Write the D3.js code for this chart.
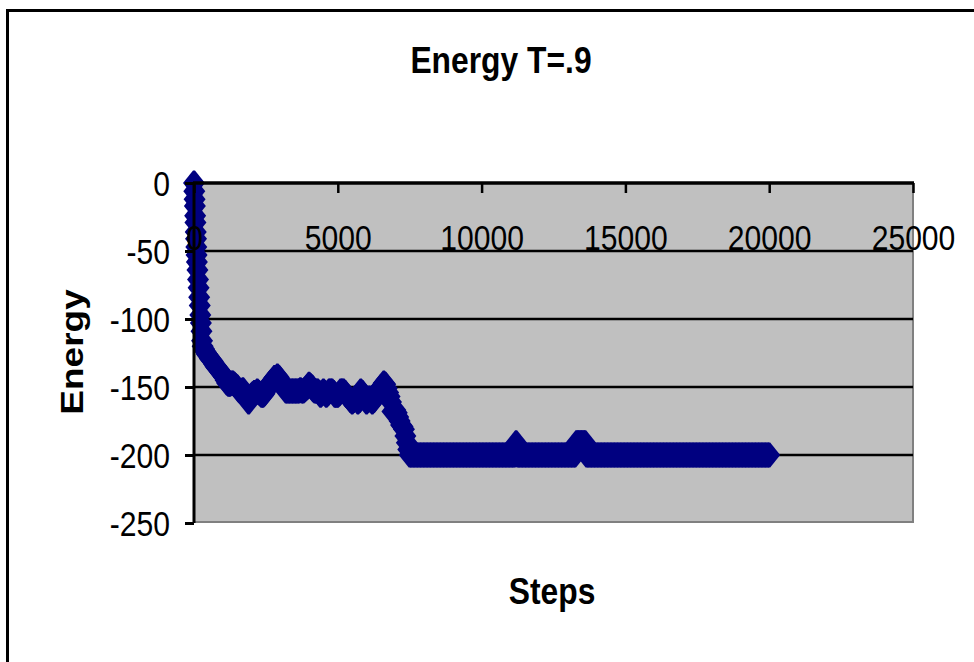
<!DOCTYPE html>
<html>
<head>
<meta charset="utf-8">
<script src="https://cdn.jsdelivr.net/npm/d3@7"></script>
<style>
  html, body { margin: 0; padding: 0; background: #fff; }
  svg { display: block; }
  text { font-family: "Liberation Sans", Arial, sans-serif; fill: #000; }
</style>
</head>
<body>
<svg id="chart" width="974" height="662"></svg>
<script>
// Energy of the simulated system along the run (T = 0.9).
// The first few hundred steps are recorded finely, the rest every 50 steps.
const earlySteps = [0, 10, 20, 30, 40, 50, 60, 70, 80, 90, 100, 120, 140, 160, 180, 200, 220, 240, 260, 280, 300, 350];
const earlyEnergy = [0, -6, -12, -17, -24, -29, -36, -41, -47, -53, -58, -64, -71, -77, -84, -90, -97, -103, -109, -116, -120, -122];

const laterStart = 400;
const sampleEvery = 50;
const laterEnergy = [
  -124, -126, -127, -129, -130, -131, -133, -135, -136, -137, -138, -140,                                   // 400 - 950
  -141, -143, -145, -147, -148, -148, -147, -147, -148, -149, -150, -152, -153, -153, -152, -154, -156, -158, -161, -158, // 1000 - 1950
  -156, -155, -154, -154, -153, -154, -155, -156, -156, -155, -153, -151, -149, -147, -146, -145, -143, -143, -142, -143, // 2000 - 2950
  -145, -147, -149, -151, -153, -153, -153, -153, -153, -153, -153, -153, -153, -153, -152, -153, -153, -152, -151, -150, // 3000 - 3950
  -148, -149, -150, -152, -153, -153, -153, -154, -156, -155, -153, -154, -156, -155, -153, -153, -153, -154, -156, -156, // 4000 - 4950
  -156, -155, -153, -153, -153, -154, -156, -157, -158, -160, -161, -160, -158, -159, -161, -160, -153, -154, -156, -158, // 5000 - 5950
  -161, -160, -158, -159, -161, -160, -156, -155, -153, -152, -150, -149, -147, -148, -151, -154, -157, -161, -168, -168, // 6000 - 6950
  -167, -169, -172, -175, -178, -179, -181, -186, -191, -196, -200, -200, -200, -200, -200, -200, -200, -200, -200, -200, // 7000 - 7950
  -200, -200, -200, -200, -200, -200, -200, -200, -200, -200, -200, -200, -200, -200, -200, -200, -200, -200, -200, -200, // 8000 - 8950
  -200, -200, -200, -200, -200, -200, -200, -200, -200, -200, -200, -200, -200, -200, -200, -200, -200, -200, -200, -200, // 9000 - 9950
  -200, -200, -200, -200, -200, -200, -200, -200, -200, -200, -200, -200, -200, -200, -200, -200, -200, -200, -200, -200, // 10000 - 10950
  -200, -200, -200, -200, -191, -200, -200, -200, -200, -200, -200, -200, -200, -200, -200, -200, -200, -200, -200, -200, // 11000 - 11950
  -200, -200, -200, -200, -200, -200, -200, -200, -200, -200, -200, -200, -200, -200, -200, -200, -200, -200, -200, -200, // 12000 - 12950
  -200, -200, -200, -200, -200, -200, -191, -191, -191, -191, -191, -191, -191, -200, -200, -200, -200, -200, -200, -200, // 13000 - 13950
  -200, -200, -200, -200, -200, -200, -200, -200, -200, -200, -200, -200, -200, -200, -200, -200, -200, -200, -200, -200, // 14000 - 14950
  -200, -200, -200, -200, -200, -200, -200, -200, -200, -200, -200, -200, -200, -200, -200, -200, -200, -200, -200, -200, // 15000 - 15950
  -200, -200, -200, -200, -200, -200, -200, -200, -200, -200, -200, -200, -200, -200, -200, -200, -200, -200, -200, -200, // 16000 - 16950
  -200, -200, -200, -200, -200, -200, -200, -200, -200, -200, -200, -200, -200, -200, -200, -200, -200, -200, -200, -200, // 17000 - 17950
  -200, -200, -200, -200, -200, -200, -200, -200, -200, -200, -200, -200, -200, -200, -200, -200, -200, -200, -200, -200, // 18000 - 18950
  -200, -200, -200, -200, -200, -200, -200, -200, -200, -200, -200, -200, -200, -200, -200, -200, -200, -200, -200, -200, // 19000 - 19950
  -200                                                                                                       // 20000
];

const steps = earlySteps.concat(laterEnergy.map((_, i) => laterStart + i * sampleEvery));
const energy = earlyEnergy.concat(laterEnergy);

const xTicks = [0, 5000, 10000, 15000, 20000, 25000];
const yTicks = [0, -50, -100, -150, -200, -250];

const titleText = "Energy T=.9";
const xTitle = "Steps";
const yTitle = "Energy";

const svg = d3.select("#chart");
const plot = { left: 194, right: 913, top: 183, bottom: 523 };
const squeeze = 0.86;          // narrow glyph proportions
const navy = "#000080";
const fmt = d => String(d);   // plain hyphen-minus labels

const x = d3.scaleLinear().domain([0, 25000]).range([plot.left, plot.right]);
const y = d3.scaleLinear().domain([-250, 0]).range([plot.bottom, plot.top]);

// chart frame
svg.append("rect")
  .attr("x", 7.5).attr("y", 10.5)
  .attr("width", 1000).attr("height", 700)
  .attr("fill", "#fff").attr("stroke", "#000").attr("stroke-width", 3);

// plot area
svg.append("rect")
  .attr("x", plot.left).attr("y", plot.top)
  .attr("width", plot.right - plot.left).attr("height", plot.bottom - plot.top)
  .attr("fill", "#c0c0c0");
svg.append("path")
  .attr("d", `M${plot.right},${plot.top}V${plot.bottom - 1}H${plot.left}`)
  .attr("fill", "none").attr("stroke", "#808080").attr("stroke-width", 2);

// horizontal gridlines
svg.append("g").selectAll("line")
  .data(yTicks.filter(v => v !== 0 && v !== -250))
  .join("line")
  .attr("x1", plot.left).attr("x2", plot.right)
  .attr("y1", d => y(d)).attr("y2", d => y(d))
  .attr("stroke", "#000").attr("stroke-width", 2.5);

// series: connecting line plus diamond markers (tips blunted by a pixel)
const line = d3.line().x((d, i) => x(steps[i])).y(d => y(d));
svg.append("path")
  .datum(energy)
  .attr("d", line)
  .attr("fill", "none").attr("stroke", navy).attr("stroke-width", 2.5);

const hw = 11, hh = 12.5, tip = 1;
svg.append("g")
  .selectAll("path")
  .data(energy)
  .join("path")
  .attr("d", (d, i) => {
    const cx = x(steps[i]), cy = y(d);
    return `M${cx - tip},${cy - hh}H${cx + tip}L${cx + hw},${cy}L${cx + tip},${cy + hh}H${cx - tip}L${cx - hw},${cy}Z`;
  })
  .attr("fill", navy);

// axis lines
svg.append("line")
  .attr("x1", plot.left).attr("x2", plot.left)
  .attr("y1", plot.top).attr("y2", plot.bottom)
  .attr("stroke", "#000").attr("stroke-width", 3);
svg.append("line")
  .attr("x1", plot.left - 1).attr("x2", plot.right + 1)
  .attr("y1", plot.top).attr("y2", plot.top)
  .attr("stroke", "#000").attr("stroke-width", 3.5);

// x axis sits at y = 0 (top of plot), ticks pointing down into the plot
const xAxis = svg.append("g")
  .attr("transform", `translate(0,${plot.top})`)
  .call(d3.axisBottom(x).tickValues(xTicks).tickSize(10).tickSizeOuter(0).tickFormat(fmt));
xAxis.select(".domain").remove();
xAxis.selectAll(".tick line").attr("stroke", "#000").attr("stroke-width", 2.5);
xAxis.selectAll(".tick text")
  .attr("y", 67).attr("dy", null)
  .attr("font-size", 35)
  .attr("transform", `scale(${squeeze},1)`)
  .attr("text-anchor", "middle");

// y axis
const yAxis = svg.append("g")
  .attr("transform", `translate(${plot.left},0)`)
  .call(d3.axisLeft(y).tickValues(yTicks).tickSize(9).tickSizeOuter(0).tickFormat(fmt));
yAxis.select(".domain").remove();
yAxis.selectAll(".tick line").attr("stroke", "#000").attr("stroke-width", 3);
yAxis.selectAll(".tick text")
  .attr("x", -24 / squeeze).attr("dy", 12)
  .attr("font-size", 35)
  .attr("transform", `scale(${squeeze},1)`)
  .attr("text-anchor", "end");

// titles
svg.append("text")
  .attr("transform", `translate(501,73) scale(${squeeze},1)`)
  .attr("text-anchor", "middle")
  .attr("font-size", 37).attr("font-weight", "bold")
  .text(titleText);

svg.append("text")
  .attr("transform", `translate(552,604) scale(${squeeze},1)`)
  .attr("text-anchor", "middle")
  .attr("font-size", 37).attr("font-weight", "bold")
  .text(xTitle);

svg.append("text")
  .attr("transform", `translate(83,352) scale(${squeeze},1) rotate(-90)`)
  .attr("text-anchor", "middle")
  .attr("font-size", 37).attr("font-weight", "bold")
  .text(yTitle);
</script>
</body>
</html>
